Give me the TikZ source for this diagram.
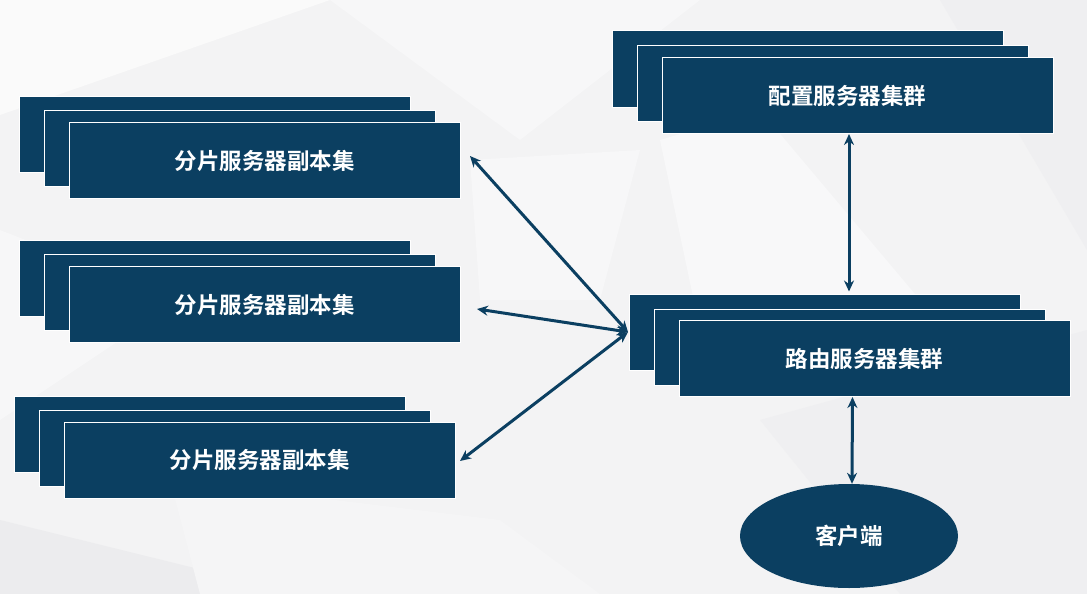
\documentclass[tikz,border=0pt]{standalone}
\usepackage{fontspec}
\setmainfont{Noto Sans CJK SC}[BoldFont={Noto Sans CJK SC Bold}]
\usetikzlibrary{shapes.geometric,arrows.meta}
\definecolor{boxblue}{HTML}{0B3F61}
\definecolor{bgbase}{HTML}{F3F3F4}
\tikzset{
  stackbox/.style={fill=boxblue, draw=white, line width=1pt, minimum width=391pt, minimum height=76pt, inner sep=0pt, text=white, font=\fontsize{22.5pt}{26pt}\selectfont\bfseries},
  clientnode/.style={ellipse, fill=boxblue, draw=none, minimum width=218pt, minimum height=104pt, inner sep=0pt, text=white, font=\fontsize{22.5pt}{26pt}\selectfont\bfseries},
  link/.style={draw=boxblue, line width=3pt, {Stealth[length=11pt,width=10pt]}-{Stealth[length=11pt,width=10pt]}},
  poly/.style={draw=none}
}
\begin{document}
\begin{tikzpicture}[x=1pt,y=-1pt]
% background
\fill[bgbase] (0,0) rectangle (1087,594);
\useasboundingbox (0,0) rectangle (1087,594);
\fill[poly,fill={rgb,255:red,250;green,250;blue,250}] (0,0) -- (330,0) -- (0,115) -- cycle;
\fill[poly,fill={rgb,255:red,247;green,247;blue,248}] (330,0) -- (700,0) -- (520,140) -- cycle;
\fill[poly,fill={rgb,255:red,247;green,247;blue,248}] (0,230) -- (180,300) -- (0,420) -- cycle;
\fill[poly,fill={rgb,255:red,248;green,248;blue,249}] (660,140) -- (760,110) -- (920,300) -- (700,330) -- cycle;
\fill[poly,fill={rgb,255:red,239;green,239;blue,241}] (940,0) -- (1087,0) -- (1087,250) -- cycle;
\fill[poly,fill={rgb,255:red,236;green,236;blue,238}] (0,520) -- (300,594) -- (0,594) -- cycle;
\fill[poly,fill={rgb,255:red,239;green,239;blue,241}] (760,420) -- (1087,330) -- (1087,594) -- (900,594) -- cycle;
\fill[poly,fill={rgb,255:red,245;green,245;blue,246}] (170,480) -- (500,520) -- (600,594) -- (200,594) -- cycle;
\fill[poly,fill={rgb,255:red,247;green,247;blue,248}] (470,160) -- (640,150) -- (600,300) -- (480,300) -- cycle;

% shard 1
\node[stackbox] (s1b) at (215,134) {};
\node[stackbox] (s1m) at (240,148.5) {};
\node[stackbox] (s1f) at (264.5,160.5) {分片服务器副本集};
% shard 2
\node[stackbox] (s2b) at (215,278) {};
\node[stackbox] (s2m) at (240,292.5) {};
\node[stackbox] (s2f) at (264.5,304.5) {分片服务器副本集};
% shard 3
\node[stackbox] (s3b) at (210,434) {};
\node[stackbox] (s3m) at (235,448) {};
\node[stackbox] (s3f) at (259.5,460) {分片服务器副本集};
% config
\node[stackbox] (cb) at (808,69) {};
\node[stackbox] (cm) at (832.5,83.5) {};
\node[stackbox] (cf) at (857.5,95.5) {\hspace*{-20pt}配置服务器集群};
% router
\node[stackbox] (rb) at (825,332) {};
\node[stackbox] (rm) at (849.5,347) {};
\node[stackbox] (rf) at (874.5,358.5) {\hspace*{-20pt}路由服务器集群};
% client
\node[clientnode] (cl) at (849,536) {客户端};

% tips
\coordinate (t1) at (470,156);
\coordinate (t2) at (477,309);
\coordinate (t3) at (460,461);
\coordinate (hub) at (628,332);

\draw[link] (hub) -- (t1);
\draw[link] (hub) -- (t2);
\draw[link] (hub) -- (t3);
\draw[link] ([xshift=-8.5pt]cf.south) -- ([xshift=24pt,yshift=2pt]rb.north);
\draw[link] ([xshift=-22pt]rf.south) -- ([xshift=3pt]cl.north);
\end{tikzpicture}
\end{document}
